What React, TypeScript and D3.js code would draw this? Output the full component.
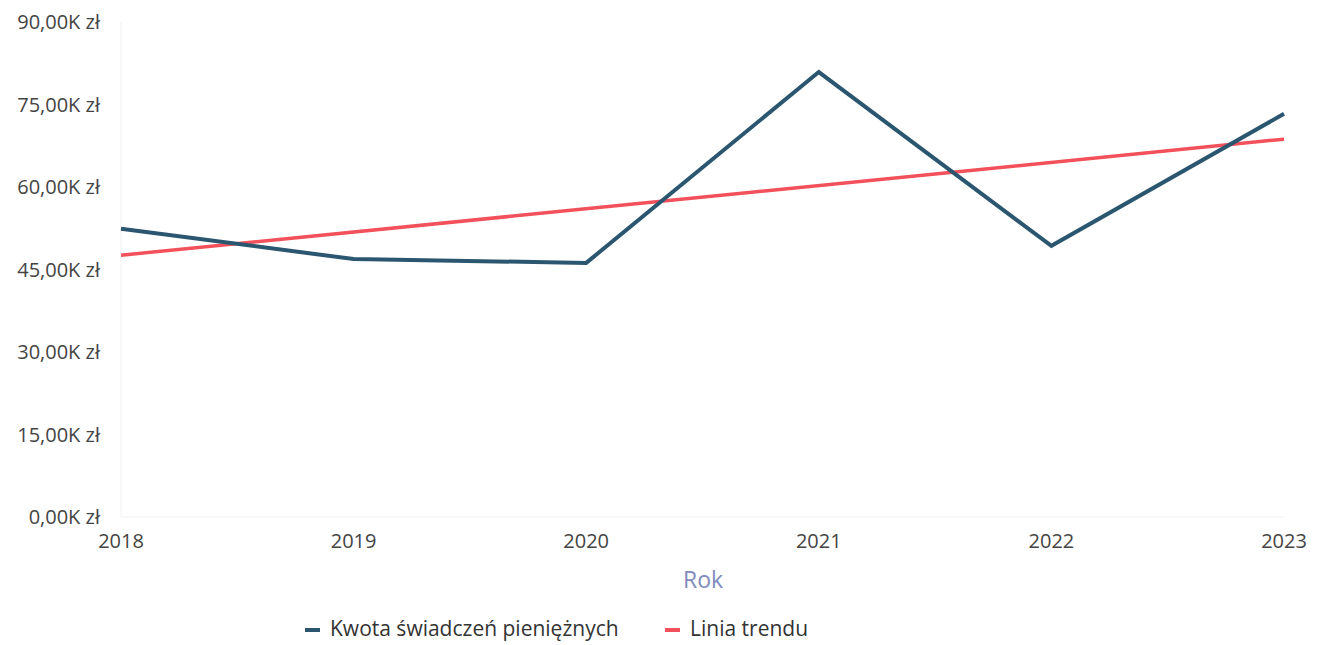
import React from "react";
import * as d3 from "d3";

const years = [2018, 2019, 2020, 2021, 2022, 2023];
const amounts = [52.4, 46.9, 46.2, 80.9, 49.3, 73.3]; // thousands zł
const trendYears = [2018, 2023];
const trendValues = [47.6, 68.7];
const yTicks = [0, 15, 30, 45, 60, 75, 90];
const seriesNames = ["Kwota świadczeń pieniężnych", "Linia trendu"];
const seriesColors = ["#2b5670", "#f2505a"];
const xTitle = "Rok";

const W = 1327;
const H = 645;
const FONT = "'Open Sans', 'DejaVu Sans', sans-serif";

export default function App() {
  const x = d3.scaleLinear().domain([2018, 2023]).range([121, 1284]);
  const y = d3.scaleLinear().domain([0, 90]).range([517, 22]);
  const line = d3
    .line<[number, number]>()
    .x((d) => x(d[0]))
    .y((d) => y(d[1]));
  const dataPts: [number, number][] = years.map((yr, i) => [yr, amounts[i]]);
  const trendPts: [number, number][] = trendYears.map((yr, i) => [yr, trendValues[i]]);
  const fmt = (v: number) => d3.format(".2f")(v).replace(".", ",") + "K zł";

  return (
    <svg
      width={W}
      height={H}
      style={{ position: "absolute", left: 0, top: 0, background: "#fff" }}
    >
      <rect x={0} y={0} width={W} height={H} fill="#ffffff" />
      {/* faint plot frame */}
      <line x1={x(2018)} x2={x(2018)} y1={y(90)} y2={y(0)} stroke="#f1f1f1" strokeWidth={1} />
      <line x1={x(2018)} x2={x(2023)} y1={y(0)} y2={y(0)} stroke="#f1f1f1" strokeWidth={1} />

      {yTicks.map((t) => (
        <text
          key={t}
          x={100}
          y={y(t) + 7}
          textAnchor="end"
          fontFamily={FONT}
          fontSize={20}
          fill="#444"
        >
          {fmt(t)}
        </text>
      ))}
      {years.map((yr) => (
        <text
          key={yr}
          x={x(yr)}
          y={548}
          textAnchor="middle"
          fontFamily={FONT}
          fontSize={20}
          fill="#444"
        >
          {yr}
        </text>
      ))}
      <text
        x={703}
        y={588}
        textAnchor="middle"
        fontFamily={FONT}
        fontSize={23}
        fill="#7f8bbd"
      >
        {xTitle}
      </text>

      <path d={line(trendPts) || ""} fill="none" stroke={seriesColors[1]} strokeWidth={3.5} />
      <path
        d={line(dataPts) || ""}
        fill="none"
        stroke={seriesColors[0]}
        strokeWidth={4}
        strokeLinejoin="miter"
      />

      {/* legend */}
      <g>
        <line x1={305} x2={320} y1={630} y2={630} stroke={seriesColors[0]} strokeWidth={4} />
        <text x={330} y={636} fontFamily={FONT} fontSize={21} fill="#333">
          {seriesNames[0]}
        </text>
        <line x1={665} x2={680} y1={630} y2={630} stroke={seriesColors[1]} strokeWidth={4} />
        <text x={690} y={636} fontFamily={FONT} fontSize={21} fill="#333">
          {seriesNames[1]}
        </text>
      </g>
    </svg>
  );
}
